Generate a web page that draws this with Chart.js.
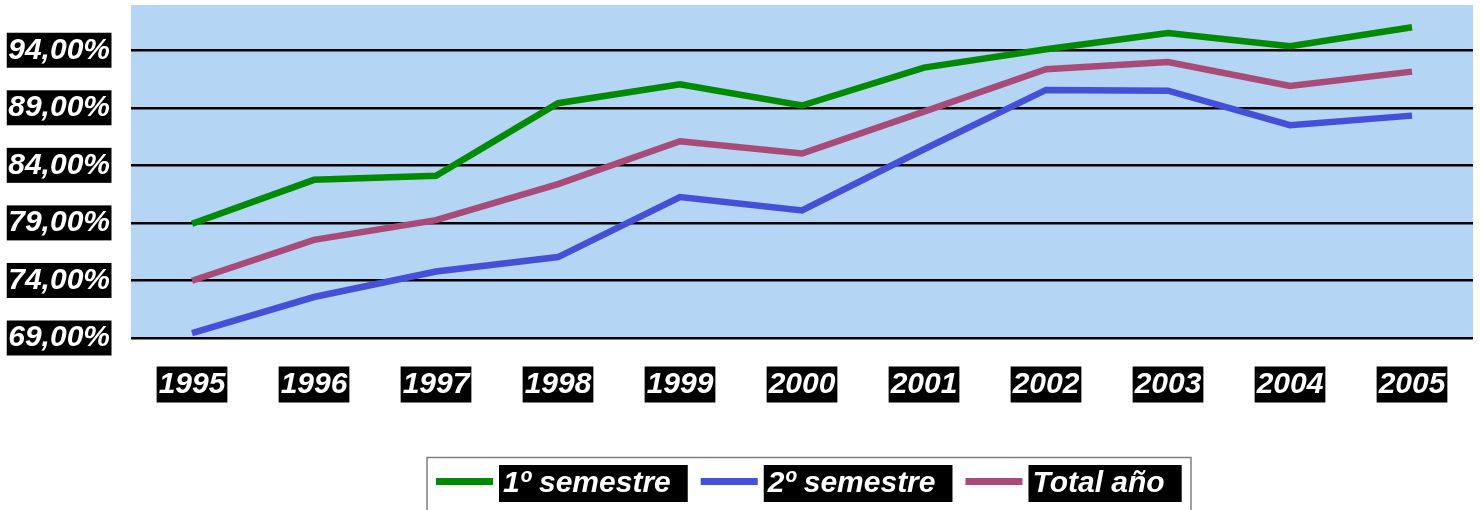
<!DOCTYPE html>
<html>
<head>
<meta charset="utf-8">
<script src="https://cdn.jsdelivr.net/npm/chart.js@4"></script>
<style>
  html, body { margin: 0; padding: 0; background: #ffffff; }
  #wrap { width: 1481px; height: 510px; }
</style>
</head>
<body>
<div id="wrap"><canvas id="semChart"></canvas></div>
<script>
const years = ["1995", "1996", "1997", "1998", "1999", "2000", "2001", "2002", "2003", "2004", "2005"];
const sem1 = [78.92, 82.74, 83.09, 89.40, 91.05, 89.20, 92.49, 94.09, 95.50, 94.35, 96.00];
const sem2 = [69.43, 72.56, 74.78, 76.03, 81.24, 80.08, 85.40, 90.55, 90.49, 87.49, 88.32];
const total = [73.97, 77.53, 79.24, 82.37, 86.09, 85.03, 88.67, 92.35, 92.98, 90.90, 92.14];
const yTicks = [69, 74, 79, 84, 89, 94];

const labelFont = { family: '"Liberation Sans", Arial, sans-serif', size: 30, style: "italic", weight: "bold", lineHeight: 1.1 };

// light blue plot background
const plotBg = {
    id: "plotBg",
    beforeDraw(chart) {
        const { ctx, chartArea: a } = chart;
        ctx.save();
        ctx.fillStyle = "#b4d5f3";
        ctx.fillRect(a.left, a.top, a.right - a.left, a.bottom - a.top);
        ctx.restore();
    }
};

// legend with black boxes behind the text, like the original
const boxLegend = {
    id: "boxLegend",
    afterDraw(chart) {
        const ctx = chart.ctx;
        ctx.save();
        ctx.strokeStyle = "#808080";
        ctx.lineWidth = 1.5;
        ctx.strokeRect(427, 457.5, 764, 80);
        ctx.font = "italic bold 30px \"Liberation Sans\", Arial, sans-serif";
        ctx.textBaseline = "middle";
        let x = 436;
        chart.data.datasets.forEach(ds => {
            ctx.strokeStyle = ds.borderColor;
            ctx.lineWidth = 7;
            ctx.beginPath();
            ctx.moveTo(x, 481.5);
            ctx.lineTo(x + 57, 481.5);
            ctx.stroke();
            x += 63;
            const w = ctx.measureText(ds.label).width + 21;
            ctx.fillStyle = "#000000";
            ctx.fillRect(x, 465, w, 37);
            ctx.fillStyle = "#ffffff";
            ctx.fillText(ds.label, x + 4, 484);
            x += w + 13;
        });
        ctx.restore();
    }
};

new Chart(document.getElementById("semChart"), {
    type: "line",
    data: {
        labels: years,
        datasets: [
            { label: "1º semestre", data: sem1, borderColor: "#008a00" },
            { label: "2º semestre", data: sem2, borderColor: "#4450d8" },
            { label: "Total año", data: total, borderColor: "#a94b78" }
        ]
    },
    options: {
        responsive: true,
        maintainAspectRatio: false,
        animation: false,
        layout: { padding: { top: 5, right: 8, bottom: 0, left: 0 } },
        elements: {
            line: { borderWidth: 6.5, tension: 0, borderJoinStyle: "miter" },
            point: { radius: 0 }
        },
        plugins: {
            legend: { display: false },
            tooltip: { enabled: false }
        },
        scales: {
            x: {
                offset: true,
                grid: { display: false, drawTicks: false },
                border: { display: false },
                afterFit(s) { s.height = 172; s.paddingLeft = 0; s.paddingRight = 0; },
                ticks: {
                    color: "#ffffff",
                    font: labelFont,
                    padding: 30,
                    maxRotation: 0,
                    autoSkip: false,
                    showLabelBackdrop: true,
                    backdropColor: "#000000",
                    backdropPadding: { left: 2, right: 2, top: 1.5, bottom: 1.5 }
                }
            },
            y: {
                min: 69,
                max: 97.93,
                afterBuildTicks(s) { s.ticks = yTicks.map(v => ({ value: v })); },
                afterFit(s) { s.width = 131; s.paddingTop = 0; s.paddingBottom = 0; },
                grid: { color: "#000000", lineWidth: 2.5, drawTicks: false },
                border: { display: false },
                ticks: {
                    color: "#ffffff",
                    font: labelFont,
                    padding: 21,
                    callback: v => v.toFixed(2).replace(".", ",") + "%",
                    showLabelBackdrop: true,
                    backdropColor: "#000000",
                    backdropPadding: { left: 1.5, right: 1.5, top: 1, bottom: 1 }
                }
            }
        }
    },
    plugins: [plotBg, boxLegend]
});
</script>
</body>
</html>
